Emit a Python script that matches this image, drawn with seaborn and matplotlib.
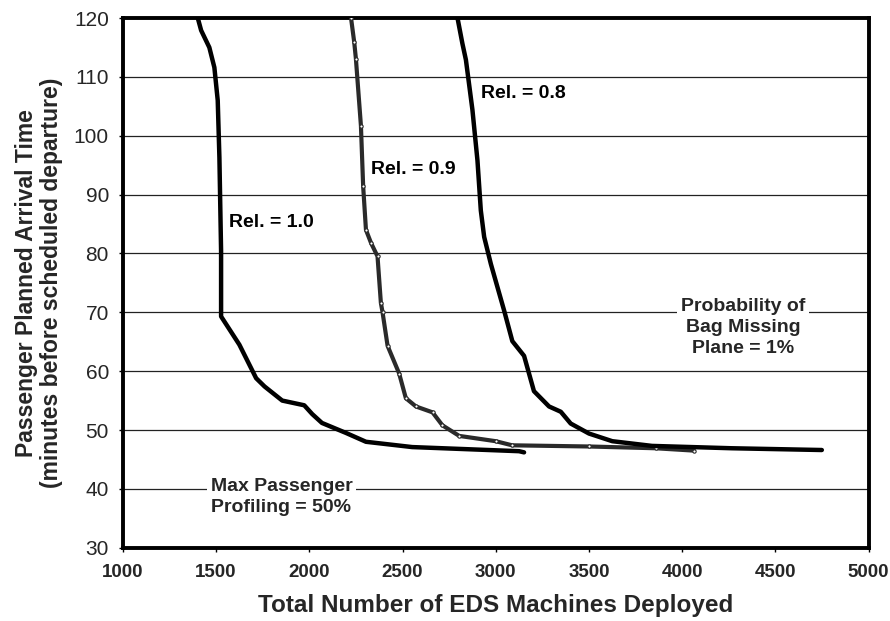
import matplotlib
matplotlib.use("Agg")
import matplotlib.pyplot as plt
import seaborn as sns
import pandas as pd

# ---- data ----
rel10_x = [1402, 1420, 1464, 1491, 1509, 1518, 1527, 1527, 1625, 1715, 1760, 1855,
           1973, 2016, 2068, 2197, 2304, 2552, 3125, 3152]
rel10_y = [120, 117.9, 115.0, 111.6, 106.0, 96.3, 80.4, 69.3, 64.5, 58.8, 57.4, 55.0,
           54.2, 52.7, 51.2, 49.5, 48.0, 47.1, 46.4, 46.2]

rel09_x = [2224, 2241, 2250, 2277, 2289, 2304, 2331, 2366, 2384, 2393, 2420, 2482,
           2518, 2572, 2661, 2714, 2804, 3000, 3088, 3500, 3857, 4063]
rel09_y = [120, 115.9, 113.1, 101.7, 91.4, 84.0, 81.8, 79.5, 71.6, 70.0, 64.3, 59.6,
           55.4, 54.0, 53.0, 50.8, 49.0, 48.1, 47.4, 47.2, 46.9, 46.5]

rel08_x = [2795, 2821, 2840, 2875, 2902, 2920, 2938, 2974, 3045, 3089, 3152, 3205,
           3286, 3349, 3402, 3500, 3625, 3838, 4266, 4749]
rel08_y = [120, 115.7, 112.9, 104.4, 95.8, 87.3, 82.8, 78.2, 70.3, 65.1, 62.6, 56.6,
           54.0, 53.1, 51.1, 49.4, 48.1, 47.3, 46.9, 46.6]

x_ticks = [1000, 1500, 2000, 2500, 3000, 3500, 4000, 4500, 5000]
y_ticks = [30, 40, 50, 60, 70, 80, 90, 100, 110, 120]

df = pd.concat([
    pd.DataFrame({"x": rel10_x, "y": rel10_y, "rel": "1.0"}),
    pd.DataFrame({"x": rel09_x, "y": rel09_y, "rel": "0.9"}),
    pd.DataFrame({"x": rel08_x, "y": rel08_y, "rel": "0.8"}),
], ignore_index=True)

sns.set_theme(style="white")
plt.rcParams["font.family"] = ["Liberation Sans", "DejaVu Sans"]

fig = plt.figure(figsize=(8.9, 6.21), dpi=100)
ax = fig.add_axes([0.138, 0.118, 0.838, 0.853])

for y in y_ticks[1:-1]:
    ax.axhline(y, color="#222222", lw=0.9, zorder=1)

styles = {
    "1.0": dict(color="black", lw=3.2, marker=None),
    "0.9": dict(color="#2a2a2a", lw=3.0, marker="o", markersize=2.4,
                markerfacecolor="white", markeredgecolor="#2a2a2a", markeredgewidth=0.8),
    "0.8": dict(color="black", lw=3.2, marker=None),
}
for rel in ["1.0", "0.9", "0.8"]:
    sub = df[df["rel"] == rel]
    sns.lineplot(data=sub, x="x", y="y", sort=False, estimator=None, ax=ax,
                 zorder=3, **styles[rel])

ax.set_xlim(1000, 5000)
ax.set_ylim(30, 120)
ax.set_xticks(x_ticks)
ax.set_yticks(y_ticks)
ax.set_xticklabels([str(t) for t in x_ticks], fontsize=13.5, fontweight="bold")
ax.set_yticklabels([str(t) for t in y_ticks], fontsize=15)
ax.tick_params(axis="both", direction="out", length=3, width=1, color="black",
               bottom=True, left=True)
ax.tick_params(axis="x", pad=9)
ax.tick_params(axis="y", pad=7)
for sp in ax.spines.values():
    sp.set_visible(True)
    sp.set_color("black")
    sp.set_linewidth(2.8)

ax.set_xlabel("Total Number of EDS Machines Deployed", fontsize=17.5,
              fontweight="bold", labelpad=9)
ax.set_ylabel("Passenger Planned Arrival Time\n(minutes before scheduled departure)",
              fontsize=16.5, fontweight="bold", labelpad=8, linespacing=1.1)

tkw = dict(fontsize=14, fontweight="bold", color="black", zorder=5)
ax.text(1572, 85.2, "Rel. = 1.0", ha="left", va="center", **tkw)
ax.text(2331, 94.2, "Rel. = 0.9", ha="left", va="center", **tkw)
ax.text(2920, 107.1, "Rel. = 0.8", ha="left", va="center", **tkw)
bbox = dict(facecolor="white", edgecolor="none", pad=3)
ax.text(1851, 38.6, "Max Passenger\nProfiling = 50%", ha="center", va="center",
        linespacing=1.3, bbox=bbox, fontsize=14, fontweight="bold", zorder=5)
ax.text(4326, 67.4, "Probability of\nBag Missing\nPlane = 1%", ha="center",
        va="center", linespacing=1.3, bbox=bbox, fontsize=14, fontweight="bold",
        zorder=5)

fig.savefig("out.png", dpi=100)
